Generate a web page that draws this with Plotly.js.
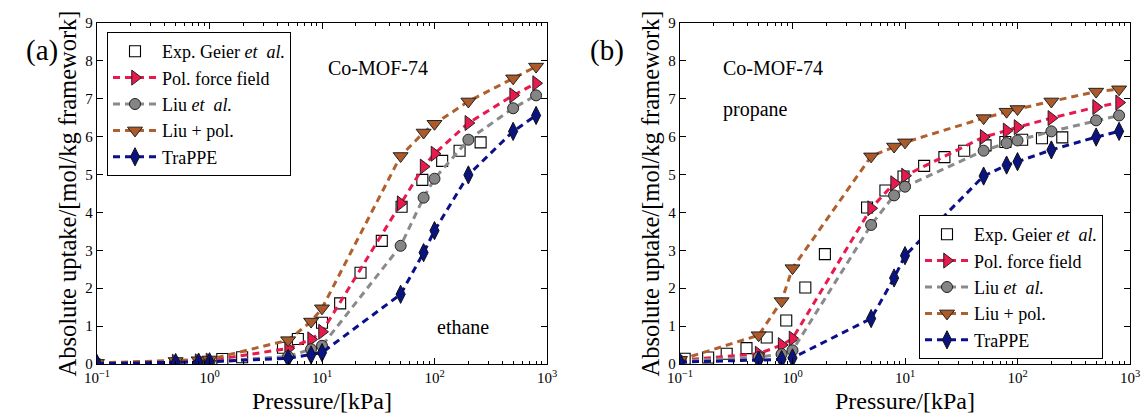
<!DOCTYPE html>
<html>
<head>
<meta charset="utf-8">
<script src="https://cdn.plot.ly/plotly-3.0.1.min.js"></script>
<style>
  html, body { margin: 0; padding: 0; background: #fff; }
  #chart { width: 1143px; height: 414px; }
</style>
</head>
<body>
<div id="chart"></div>
<script>
// ---- Co-MOF-74 adsorption isotherms (absolute uptake, mol/kg framework) ----

// Simulated pressures (kPa), shared by all force fields
const simPressure = [0.1, 0.5, 0.8, 1, 5, 8, 10, 50, 80, 100, 200, 500, 800];

// (a) ethane
const ethaneExpP      = [1.3, 1.95, 4.5, 6.1, 10, 14.5, 22, 34, 51, 78, 117, 167, 257];
const ethaneExp       = [0.13, 0.18, 0.43, 0.66, 1.09, 1.60, 2.41, 3.25, 4.15, 4.86, 5.36, 5.63, 5.85];
const ethanePol       = [0.02, 0.06, 0.07, 0.09, 0.41, 0.65, 0.85, 4.24, 5.21, 5.55, 6.36, 7.09, 7.41];
const ethaneLiu       = [0.02, 0.04, 0.05, 0.06, 0.20, 0.39, 0.48, 3.12, 4.39, 4.89, 5.92, 6.75, 7.09];
const ethaneLiuPol    = [0.03, 0.08, 0.10, 0.12, 0.63, 1.12, 1.47, 5.49, 6.11, 6.34, 6.93, 7.54, 7.85];
const ethaneTraPPE    = [0.01, 0.04, 0.05, 0.06, 0.15, 0.24, 0.30, 1.84, 2.94, 3.52, 4.99, 6.14, 6.56];

// (b) propane
const propaneExpP     = [0.11, 0.178, 0.26, 0.39, 0.59, 0.88, 1.3, 1.94, 4.6, 6.7, 9.7, 14.8, 22.4, 33.6, 52, 78, 110, 165, 250];
const propaneExp      = [0.14, 0.17, 0.27, 0.42, 0.70, 1.15, 2.02, 2.90, 4.13, 4.58, 4.95, 5.23, 5.46, 5.63, 5.77, 5.86, 5.92, 5.96, 5.98];
const propanePol      = [0.10, 0.27, 0.50, 0.67, 4.11, 4.77, 4.97, 5.99, 6.16, 6.25, 6.49, 6.78, 6.90];
const propaneLiu      = [0.08, 0.18, 0.26, 0.36, 3.67, 4.45, 4.68, 5.63, 5.83, 5.90, 6.14, 6.43, 6.56];
const propaneLiuPol   = [0.11, 0.76, 1.66, 2.53, 5.48, 5.74, 5.85, 6.49, 6.66, 6.73, 6.93, 7.19, 7.25];
const propaneTraPPE   = [0.05, 0.10, 0.12, 0.16, 1.20, 2.27, 2.86, 4.96, 5.25, 5.34, 5.65, 5.99, 6.14];

// Legend labels and tick labels
const seriesNames = ['Exp. Geier <i>et\u00a0\u00a0al.</i>', 'Pol. force field',
                     'Liu <i>et\u00a0\u00a0al.</i>', 'Liu\u00a0+\u00a0pol.', 'TraPPE'];
const xTickVals = [0.1, 1, 10, 100, 1000];
const xTickText = ['10<sup>\u22121</sup>', '10<sup>0</sup>', '10<sup>1</sup>', '10<sup>2</sup>', '10<sup>3</sup>'];

// ---- styling ----
const W = 1143, H = 414;
const FONT = '"Liberation Serif", serif';
const px = x => x / W;          // pixel -> paper x
const py = y => 1 - y / H;      // pixel -> paper y

const styles = [
  {line: null,      marker: {symbol: 'square', size: 11, color: '#fff', line: {width: 1.1, color: '#000'}}},
  {line: '#e8194c', marker: {symbol: 'triangle-right', size: 13, color: '#e8194c', line: {width: 1, color: '#222'}}},
  {line: '#8a8a8a', marker: {symbol: 'circle', size: 11, color: '#858585', line: {width: 1, color: '#222'}}},
  {line: '#b0602e', marker: {symbol: 'triangle-down', size: 13, color: '#ac5a2a', line: {width: 1, color: '#222'}}},
  {line: '#0b0f8a', marker: {symbol: 'diamond-tall', size: 13, color: '#0a1480', line: {width: 1, color: '#111'}}}
];

// minor log ticks 2..9 in every decade
const minorVals = [];
for (let d = -1; d <= 2; d++) for (let k = 2; k <= 9; k++) minorVals.push(k * Math.pow(10, d));

function makeTraces(xa, ya, leg, expP, expY, modelSeries) {
  const out = [];
  out.push({
    x: expP, y: expY, xaxis: xa, yaxis: ya, legend: leg, legendgroup: leg + '0',
    type: 'scatter', mode: 'markers', name: seriesNames[0],
    marker: styles[0].marker
  });
  modelSeries.forEach((vals, i) => {
    const s = styles[i + 1];
    out.push({
      x: simPressure, y: vals, xaxis: xa, yaxis: ya, legend: leg, legendgroup: leg + (i + 1),
      type: 'scatter', mode: 'lines+markers', name: seriesNames[i + 1],
      line: {color: s.line, width: 3, dash: '7px,5px'},
      marker: s.marker
    });
  });
  return out;
}

const data = [].concat(
  makeTraces('x', 'y', 'legend', ethaneExpP, ethaneExp,
             [ethanePol, ethaneLiu, ethaneLiuPol, ethaneTraPPE]),
  makeTraces('x2', 'y2', 'legend2', propaneExpP, propaneExp,
             [propanePol, propaneLiu, propaneLiuPol, propaneTraPPE])
);

function xAxis(domain, anchor) {
  return {
    domain: domain, anchor: anchor, type: 'log', range: [-1, 3],
    tickmode: 'array', tickvals: xTickVals, ticktext: xTickText,
    ticks: 'inside', ticklen: 6, tickwidth: 1, tickcolor: '#000',
    minor: {tickmode: 'array', tickvals: minorVals, ticks: 'inside', ticklen: 3, tickwidth: 1, tickcolor: '#000', showgrid: false},
    showline: true, linecolor: '#000', linewidth: 1.3, mirror: 'ticks',
    showgrid: false, zeroline: false,
    tickfont: {family: FONT, size: 15, color: '#000'},
    title: {text: 'Pressure/[kPa]', font: {family: FONT, size: 24, color: '#000'}, standoff: 8}
  };
}
function yAxis(domain, anchor) {
  return {
    domain: domain, anchor: anchor, range: [0, 9], dtick: 1, tick0: 0,
    ticks: 'inside', ticklen: 6, tickwidth: 1, tickcolor: '#000',
    showline: true, linecolor: '#000', linewidth: 1.3, mirror: 'ticks',
    showgrid: false, zeroline: false,
    tickfont: {family: FONT, size: 15, color: '#000'},
    title: {text: 'Absolute uptake/[mol/kg framework]', font: {family: FONT, size: 24.5, color: '#000'}, standoff: 1}
  };
}

const yDom = [py(364), py(23)];
const legendStyle = {
  font: {family: FONT, size: 18, color: '#000'},
  bgcolor: '#fff', bordercolor: '#000', borderwidth: 1,
  traceorder: 'grouped', tracegroupgap: 0, itemwidth: 44,
  xanchor: 'left', yanchor: 'top'
};

const layout = {
  width: W, height: H,
  margin: {l: 0, r: 0, t: 0, b: 0},
  paper_bgcolor: '#fff', plot_bgcolor: '#fff',
  font: {family: FONT, color: '#000'},
  xaxis: xAxis([px(97), px(547)], 'y'),
  yaxis: yAxis(yDom, 'x'),
  xaxis2: xAxis([px(680), px(1130)], 'y2'),
  yaxis2: yAxis(yDom, 'x2'),
  legend: Object.assign({x: px(107), y: py(32)}, legendStyle),
  legend2: Object.assign({x: px(919), y: py(215)}, legendStyle),
  annotations: [
    {text: '(a)', x: px(24), y: py(32), xref: 'paper', yref: 'paper', showarrow: false, font: {family: FONT, size: 29}},
    {text: '(b)', x: px(607), y: py(32), xref: 'paper', yref: 'paper', showarrow: false, font: {family: FONT, size: 29}},
    {text: 'Co-MOF-74', x: px(326), y: py(55), xanchor: 'left', xref: 'paper', yref: 'paper', showarrow: false, font: {family: FONT, size: 20}},
    {text: 'ethane', x: px(435), y: py(340), xanchor: 'left', xref: 'paper', yref: 'paper', showarrow: false, font: {family: FONT, size: 20}},
    {text: 'Co-MOF-74', x: px(721), y: py(55), xanchor: 'left', xref: 'paper', yref: 'paper', showarrow: false, font: {family: FONT, size: 20}},
    {text: 'propane', x: px(721), y: py(96), xanchor: 'left', xref: 'paper', yref: 'paper', showarrow: false, font: {family: FONT, size: 20}}
  ],
  showlegend: true
};

Plotly.newPlot('chart', data, layout, {staticPlot: true, displayModeBar: false});
</script>
</body>
</html>
